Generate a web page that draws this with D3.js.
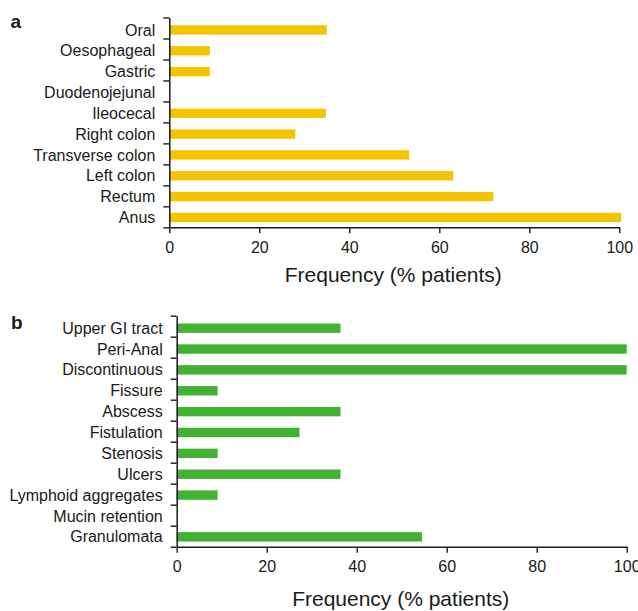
<!DOCTYPE html>
<html>
<head>
<meta charset="utf-8">
<script src="https://cdn.jsdelivr.net/npm/d3@7"></script>
<style>
  html, body { margin: 0; padding: 0; background: #fff; }
  svg text { font-family: "Liberation Sans", Arial, Helvetica, sans-serif; fill: #1a1a1a; }
</style>
</head>
<body>
<svg id="chart" width="638" height="611"></svg>
<script>
// Panel a: anatomical location of disease
const locationCategories = ["Oral", "Oesophageal", "Gastric", "Duodenojejunal", "Ileocecal",
  "Right colon", "Transverse colon", "Left colon", "Rectum", "Anus"];
const locationValues = [35, 9, 9, 0, 34.8, 28, 53.3, 63.1, 72, 100.4];

// Panel b: disease features
const featureCategories = ["Upper GI tract", "Peri-Anal", "Discontinuous", "Fissure", "Abscess",
  "Fistulation", "Stenosis", "Ulcers", "Lymphoid aggregates", "Mucin retention", "Granulomata"];
const featureValues = [36.4, 100, 100, 9.1, 36.4, 27.3, 9.1, 36.4, 9.1, 0, 54.5];

const xTickValues = [0, 20, 40, 60, 80, 100];
const axisTitle = "Frequency (% patients)";

const svg = d3.select("#chart");

function drawPanel(opts) {
  const { letter, cats, vals, color, left, right, top, bottom, letterX, letterY, titleY } = opts;
  const g = svg.append("g");

  const x = d3.scaleLinear().domain([0, 100]).range([left, right]);
  const y = d3.scaleBand().domain(cats).range([top, bottom])
    .paddingInner(0.55).paddingOuter(0.31).align(0.6);
  const yEdge = d3.scaleLinear().domain([0, cats.length]).range([top, bottom]);

  // bars
  g.selectAll("rect.bar").data(cats).join("rect")
    .attr("class", "bar")
    .attr("x", x(0))
    .attr("y", d => y(d))
    .attr("width", (d, i) => Math.max(0, x(vals[i]) - x(0)))
    .attr("height", y.bandwidth())
    .attr("fill", color);

  // category boundary ticks and axis line
  const yAxis = g.append("g")
    .attr("transform", `translate(${left},0)`)
    .call(d3.axisLeft(yEdge).tickValues(d3.range(cats.length + 1))
      .tickSize(6).tickSizeOuter(0).tickFormat(""));
  yAxis.selectAll("line").attr("stroke", "#1a1a1a").attr("stroke-width", 1.4);
  yAxis.select(".domain").attr("stroke", "#1a1a1a").attr("stroke-width", 1.5);

  // category labels
  g.selectAll("text.cat").data(cats).join("text")
    .attr("class", "cat")
    .attr("x", left - 14)
    .attr("y", d => y(d) + y.bandwidth() / 2)
    .attr("dy", "0.35em")
    .attr("text-anchor", "end")
    .attr("font-size", 16)
    .text(d => d);

  // value axis
  const xAxis = g.append("g")
    .attr("transform", `translate(0,${bottom})`)
    .call(d3.axisBottom(x).tickValues(xTickValues).tickSize(6).tickSizeOuter(0).tickPadding(8.4));
  xAxis.selectAll("line").attr("stroke", "#1a1a1a").attr("stroke-width", 1.4);
  xAxis.select(".domain").attr("stroke", "#1a1a1a").attr("stroke-width", 1.5);
  xAxis.selectAll("text").attr("font-size", 16)
    .attr("font-family", "'Liberation Sans', Arial, sans-serif").attr("fill", "#1a1a1a");

  // axis title
  g.append("text")
    .attr("x", (left + right) / 2 - 1)
    .attr("y", titleY)
    .attr("text-anchor", "middle")
    .attr("font-size", 21)
    .text(axisTitle);

  // panel letter
  g.append("text")
    .attr("x", letterX)
    .attr("y", letterY)
    .attr("font-size", 19)
    .attr("font-weight", "bold")
    .text(letter);
}

drawPanel({
  letter: "a", cats: locationCategories, vals: locationValues, color: "#F5C400",
  left: 169.3, right: 619.3, top: 17.5, bottom: 227.3,
  letterX: 10.5, letterY: 28.3, titleY: 281.7
});

drawPanel({
  letter: "b", cats: featureCategories, vals: featureValues, color: "#42B233",
  left: 176.7, right: 626.7, top: 315.7, bottom: 546.7,
  letterX: 11, letterY: 329.3, titleY: 605.7
});
</script>
</body>
</html>
